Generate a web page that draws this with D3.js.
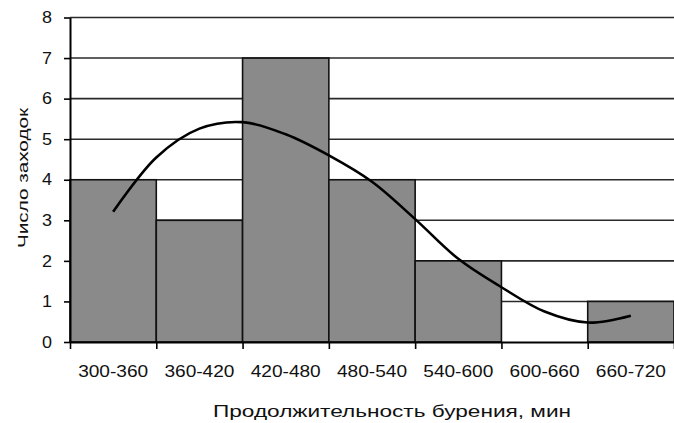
<!DOCTYPE html>
<html>
<head>
<meta charset="utf-8">
<script src="https://cdn.jsdelivr.net/npm/d3@7"></script>
<style>
  body { margin: 0; background: #fff; }
  svg { display: block; font-family: "Liberation Sans", Arial, sans-serif; }
</style>
</head>
<body>
<svg id="svg"></svg>
<script>
// интервалы продолжительности бурения, мин
const categories = ['300-360', '360-420', '420-480', '480-540', '540-600', '600-660', '660-720'];
// число заходок
const counts = [4, 3, 7, 4, 2, 0, 1];
// сглаженная кривая
const curveMinutes = [330, 360, 390, 420, 450, 480, 510, 540, 570, 600, 630, 660, 690];
const curveValues = [3.21, 4.55, 5.26, 5.42, 5.12, 4.6, 3.95, 3.03, 2.05, 1.35, 0.75, 0.48, 0.65];
const yTicks = [0, 1, 2, 3, 4, 5, 6, 7, 8];
const edges = [300, 360, 420, 480, 540, 600, 660, 720];

const width = 674, height = 423;
const plotLeft = 70, plotRight = 674, plotTop = 17.5, plotBottom = 342;

const svg = d3.select('#svg')
  .attr('width', width)
  .attr('height', height);

const x = d3.scaleBand().domain(categories).range([plotLeft, plotRight]).padding(0);
const xMin = d3.scaleLinear().domain([300, 720]).range([plotLeft, plotRight]);
const y = d3.scaleLinear().domain([0, 8]).range([plotBottom, plotTop]);

// сетка
svg.append('g')
  .selectAll('line')
  .data(yTicks.filter(d => d > 0))
  .enter()
  .append('line')
  .attr('x1', plotLeft).attr('x2', plotRight)
  .attr('y1', d => y(d)).attr('y2', d => y(d))
  .attr('stroke', '#2a2a2a')
  .attr('stroke-width', 1.6);

// столбцы
svg.append('g')
  .selectAll('rect')
  .data(counts)
  .enter()
  .append('rect')
  .attr('x', (d, i) => x(categories[i]))
  .attr('width', x.bandwidth())
  .attr('y', d => y(d))
  .attr('height', d => y(0) - y(d))
  .attr('fill', '#8a8a8a')
  .attr('stroke', '#111')
  .attr('stroke-width', 1.6);

// кривая
const line = d3.line()
  .x((d, i) => xMin(curveMinutes[i]))
  .y(d => y(d))
  .curve(d3.curveCatmullRom.alpha(0.5));

svg.append('path')
  .datum(curveValues)
  .attr('d', line)
  .attr('fill', 'none')
  .attr('stroke', '#000')
  .attr('stroke-width', 2.6);

// ось Y
const yAxis = svg.append('g')
  .attr('transform', 'translate(' + plotLeft + ',0)')
  .call(d3.axisLeft(y).tickValues(yTicks).tickSize(6).tickPadding(12).tickSizeOuter(0));
yAxis.select('.domain').attr('stroke', '#000').attr('stroke-width', 2);
yAxis.selectAll('.tick line').attr('stroke', '#000').attr('stroke-width', 1.6);
yAxis.selectAll('text')
  .attr('font-size', 16)
  .attr('fill', '#111')
  .attr('textLength', 10)
  .attr('lengthAdjust', 'spacingAndGlyphs');

// ось X: засечки на границах интервалов
const xAxis = svg.append('g')
  .attr('transform', 'translate(0,' + plotBottom + ')')
  .call(d3.axisBottom(xMin).tickValues(edges).tickSize(7).tickFormat('').tickSizeOuter(0));
xAxis.select('.domain').attr('stroke', '#000').attr('stroke-width', 2);
xAxis.selectAll('.tick line').attr('stroke', '#000').attr('stroke-width', 1.6);

// подписи интервалов
const xLabels = svg.append('g')
  .attr('transform', 'translate(0,' + plotBottom + ')')
  .call(d3.axisBottom(x).tickSize(0).tickPadding(24));
xLabels.select('.domain').remove();
xLabels.selectAll('text')
  .attr('font-size', 16)
  .attr('fill', '#111')
  .attr('textLength', 70)
  .attr('lengthAdjust', 'spacingAndGlyphs');

// подписи осей
svg.append('text')
  .attr('x', 392)
  .attr('y', 417)
  .attr('text-anchor', 'middle')
  .attr('font-size', 16)
  .attr('fill', '#111')
  .attr('textLength', 358)
  .attr('lengthAdjust', 'spacingAndGlyphs')
  .text('Продолжительность бурения, мин');

svg.append('text')
  .attr('transform', 'translate(28,178) rotate(-90)')
  .attr('text-anchor', 'middle')
  .attr('font-size', 15)
  .attr('fill', '#111')
  .attr('textLength', 140)
  .attr('lengthAdjust', 'spacingAndGlyphs')
  .text('Число заходок');
</script>
</body>
</html>
